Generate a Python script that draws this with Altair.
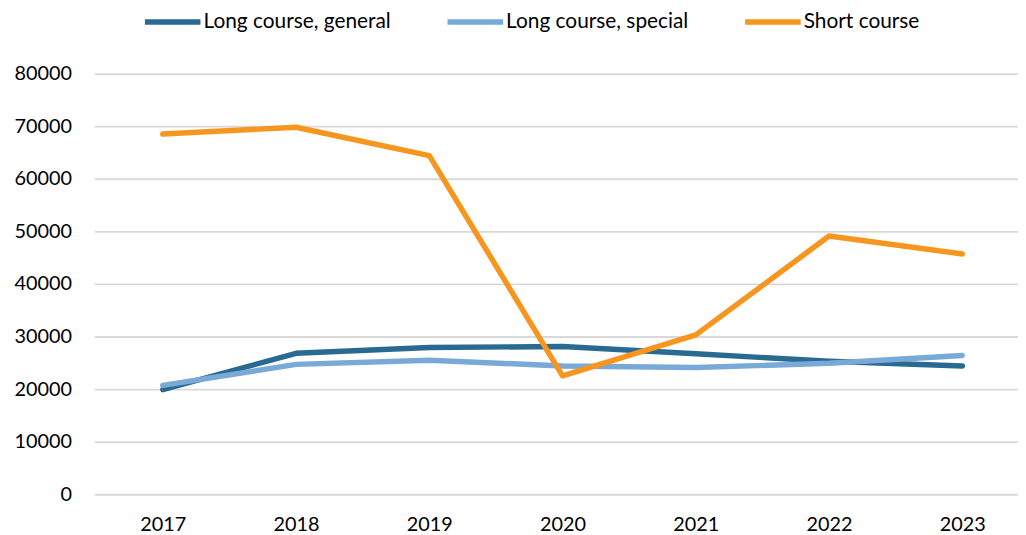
import altair as alt
import pandas as pd

years = [2017, 2018, 2019, 2020, 2021, 2022, 2023]
long_general = [19900, 26800, 27900, 28100, 26700, 25300, 24400]
long_special = [20700, 24700, 25500, 24400, 24100, 24900, 26400]
short_course = [68500, 69800, 64400, 22500, 30300, 49100, 45700]

series_names = ["Long course, general", "Long course, special", "Short course"]
series_colors = ["#296A93", "#79A9D7", "#F7961F"]
y_ticks = [0, 10000, 20000, 30000, 40000, 50000, 60000, 70000, 80000]

rows = []
for name, vals in zip(series_names, [long_general, long_special, short_course]):
    for i, (yr, v) in enumerate(zip(years, vals)):
        rows.append({"Year": yr, "Value": v, "Series": name, "order": i})
df = pd.DataFrame(rows)

FONT = "Lato"

chart = (
    alt.Chart(df)
    .mark_line(strokeWidth=5.5, strokeCap="round", strokeJoin="round")
    .encode(
        x=alt.X(
            "Year:Q",
            scale=alt.Scale(domain=[2016.486, 2023.418], nice=False, zero=False),
            axis=alt.Axis(
                values=years,
                format="d",
                title=None,
                grid=False,
                domain=False,
                ticks=False,
                labelFontSize=20,
                labelFont=FONT,
                labelColor="#000000",
                labelPadding=21,
                labelBaseline="top",
            ),
        ),
        y=alt.Y(
            "Value:Q",
            scale=alt.Scale(domain=[0, 80000], nice=False),
            axis=alt.Axis(
                values=y_ticks,
                format="d",
                title=None,
                domain=False,
                ticks=False,
                grid=True,
                gridColor="#D9D9D9",
                gridWidth=1.8,
                labelFontSize=20,
                labelFont=FONT,
                labelColor="#000000",
                labelPadding=23,
            ),
        ),
        color=alt.Color(
            "Series:N",
            scale=alt.Scale(domain=series_names, range=series_colors),
            legend=alt.Legend(
                title=None,
                orient="none",
                direction="horizontal",
                legendX=62,
                legendY=-69,
                symbolType="M-2,0H2",
                symbolSize=784,
                symbolStrokeWidth=5.5,
                labelFontSize=21,
                labelFont=FONT,
                labelColor="#000000",
                labelOffset=14,
                labelLimit=400,
                columnPadding=46,
            ),
        ),
        order="order:Q",
    )
    .properties(
        width=931,
        height=424,
        padding={"left": 87, "top": 64, "right": 0, "bottom": 40},
        autosize=alt.AutoSizeParams(type="none"),
    )
    .configure_view(stroke=None)
)

chart.save("out.html", embed_options={"renderer": "svg", "actions": False})
